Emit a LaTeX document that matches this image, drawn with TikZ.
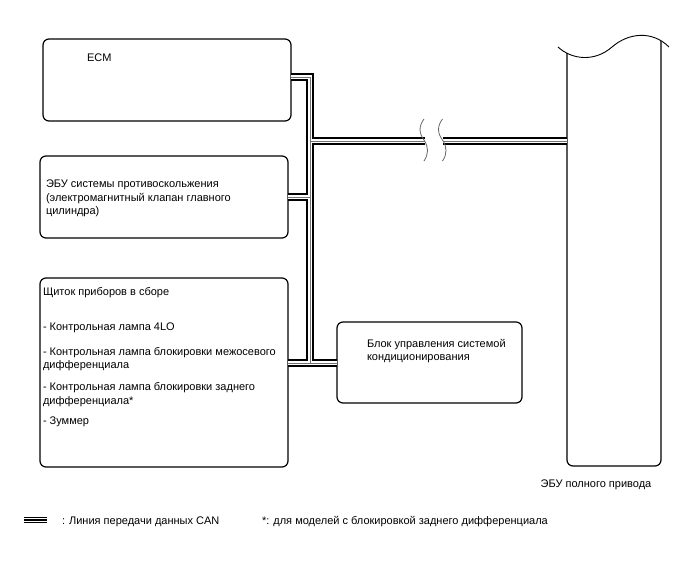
\documentclass[tikz,border=0pt]{standalone}
\usepackage{fontspec}
\setmainfont{Liberation Sans}
\begin{document}
\begin{tikzpicture}[x=1pt,y=-1pt,
  box/.style={draw, line width=1.2pt, rounded corners=6pt, inner sep=0pt, outer sep=0pt, anchor=north west},
  txt/.style={anchor=base west, inner sep=0pt, outer sep=0pt, font=\fontsize{11}{13}\selectfont},
  canA/.style={line width=7.5pt, black, miter limit=10},
  canB/.style={line width=4.3pt, white, miter limit=10},
  canC/.style={line width=0.7pt, black!55, miter limit=10},
  wave/.style={line width=0.8pt, black!60},
  leg/.style={line width=1.4pt, black}]
\useasboundingbox (0,0) rectangle (688,560);
% boxes
\node[box, minimum width=248pt, minimum height=82pt] (ecm) at (43,39) {};
\node[box, minimum width=248pt, minimum height=82pt] (abs) at (40,156) {};
\node[box, minimum width=248pt, minimum height=189pt] (meter) at (40,278) {};
\node[box, minimum width=185pt, minimum height=81pt] (ac) at (337,322) {};
% 4WD ECU
\draw[line width=1.2pt, rounded corners=6pt] (567,53) -- (567,466) -- (661,466) -- (661,41);
\draw[line width=0.9pt] (558,47) .. controls (572,60) and (595,62) .. (612,47) .. controls (628,33) and (652,30) .. (669,47);
\coordinate (awd) at (567,141);
% bus junctions
\coordinate (j1) at (310,77);
\coordinate (j2) at (310,141);
\coordinate (j3) at (310,197);
\coordinate (j4) at (310,363);
\coordinate (brkL) at (425,141);
\coordinate (brkR) at (443,141);
\newcommand\canpaths[1]{%
  \draw[#1] (ecm.east |- j1) -- (j1) -- (j4);
  \draw[#1] (j2) -- (brkL);
  \draw[#1] (brkR) -- (awd);
  \draw[#1] (abs.east |- j3) -- (j3);
  \draw[#1] (meter.east |- j4) -- (ac.west |- j4);
}
\canpaths{canA}
\canpaths{canB}
\canpaths{canC}
% break marks
\draw[wave] (424,119) .. controls (418.7,126) and (418.7,133) .. (424,140) .. controls (428.7,147) and (428.7,154) .. (424,161);
\draw[wave] (442.5,119) .. controls (437.2,126) and (437.2,133) .. (442.5,140) .. controls (447.2,147) and (447.2,154) .. (442.5,161);
% texts
\node[txt] (tecm) at (87,61) {ECM};
\node[txt] (tabs1) at (46,187.5) {ЭБУ системы противоскольжения};
\node[txt] (tabs2) at (46,201) {(электромагнитный клапан главного};
\node[txt] (tabs3) at (46,214.5) {цилиндра)};
\node[txt] (tm1) at (43,295.5) {Щиток приборов в сборе};
\node[txt] (tm2) at (43,330) {- Контрольная лампа 4LO};
\node[txt] (tm3) at (43,355) {- Контрольная лампа блокировки межосевого};
\node[txt] (tm4) at (43,368.5) {дифференциала};
\node[txt] (tm5) at (43,390.5) {- Контрольная лампа блокировки заднего};
\node[txt] (tm6) at (43,404) {дифференциала*};
\node[txt] (tm7) at (43,424.5) {- Зуммер};
\node[txt] (tac1) at (367,347) {Блок управления системой};
\node[txt] (tac2) at (367,360.5) {кондиционирования};
\node[txt, anchor=base] (tawd) at (596,487.5) {ЭБУ полного привода};
% legend
\draw[leg] (24,517.3) -- (47,517.3);
\draw[leg] (24,520) -- (47,520);
\draw[leg] (24,522.7) -- (47,522.7);
\node[txt] (tleg) at (62,524) {: Линия передачи данных CAN};
\node[txt] (tnote) at (262,524) {*: для моделей с блокировкой заднего дифференциала};
\end{tikzpicture}
\end{document}
